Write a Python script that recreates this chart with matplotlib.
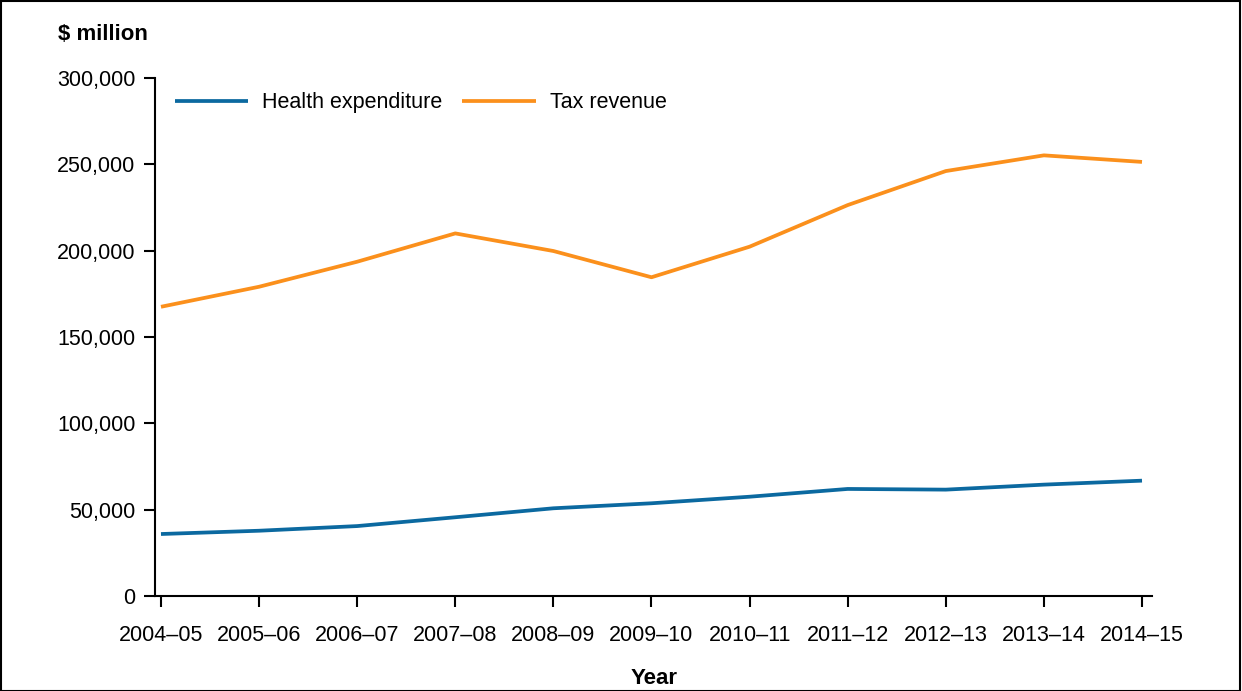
import matplotlib
matplotlib.use("Agg")
import matplotlib.pyplot as plt
from matplotlib.patches import Rectangle

years = ["2004–05", "2005–06", "2006–07", "2007–08", "2008–09", "2009–10",
         "2010–11", "2011–12", "2012–13", "2013–14", "2014–15"]
health = [35900, 37800, 40500, 45600, 50800, 53700, 57500, 62000, 61600, 64500, 66800]
tax = [167500, 179100, 193600, 210000, 199800, 184600, 202300, 226400, 246100, 255200, 251400]
yticks = [0, 50000, 100000, 150000, 200000, 250000, 300000]

plt.rcParams['font.family'] = ['Liberation Sans', 'DejaVu Sans']

fig = plt.figure(figsize=(12.42, 6.91), dpi=100)
ax = fig.add_axes([155/1242, 1-596/691, (1152-155)/1242, (596-78)/691])

x = list(range(len(years)))
ax.plot(x, health, color='#0b69a0', lw=2.7, label='Health expenditure', solid_capstyle='butt')
ax.plot(x, tax, color='#fb901c', lw=2.7, label='Tax revenue', solid_capstyle='butt')

ax.set_xlim(-0.061, 10.102)
ax.set_ylim(0, 300000)
ax.set_xticks(x)
ax.set_xticklabels(years)
ax.set_yticks(yticks)
ax.set_yticklabels([f"{v:,}" for v in yticks])
for s in ['top', 'right']:
    ax.spines[s].set_visible(False)
for s in ['left', 'bottom']:
    ax.spines[s].set_linewidth(1.5)
ax.tick_params(axis='both', direction='out', length=8, width=1.5, labelsize=15.5)
ax.tick_params(axis='x', pad=13)
ax.tick_params(axis='y', pad=6)

leg = ax.legend(loc='center left', bbox_to_anchor=(0.0201, 0.952), ncol=2, frameon=False,
                fontsize=15.5, handlelength=3.4, handletextpad=0.65, columnspacing=0.93,
                borderaxespad=0, borderpad=0)

fig.text(58/1242, 1-35/691, "$ million", fontsize=16, fontweight='bold', va='center', ha='left')
fig.text(654/1242, 1-678/691, "Year", fontsize=16, fontweight='bold', va='center', ha='center')

fig.patches.append(Rectangle((0.001, 0.0), 0.997, 0.998, transform=fig.transFigure,
                             fill=False, edgecolor='black', lw=1.5))

fig.savefig("out.png", dpi=100)
